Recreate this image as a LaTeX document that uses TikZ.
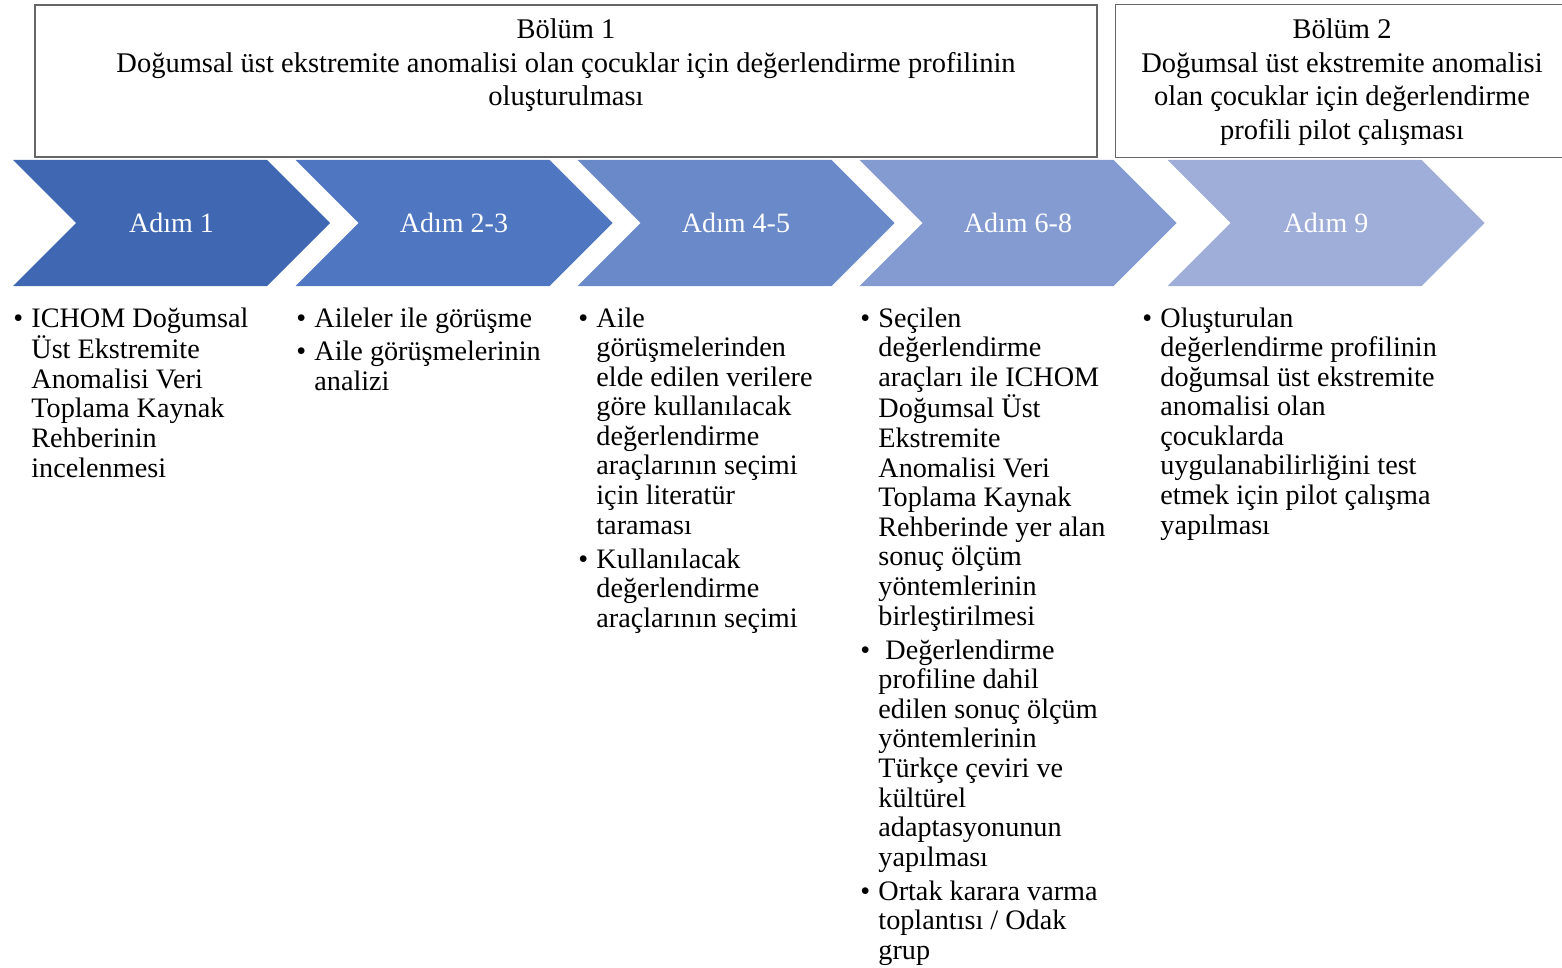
\documentclass[tikz,border=0pt]{standalone}
\usepackage{fontspec}
\setmainfont{Liberation Serif}
\usetikzlibrary{positioning}
\usetikzlibrary{shapes.symbols}
\definecolor{adimA}{HTML}{4068B2}
\definecolor{adimB}{HTML}{4F76C0}
\definecolor{adimC}{HTML}{6A89C8}
\definecolor{adimD}{HTML}{849BD2}
\definecolor{adimE}{HTML}{9FAED9}
\tikzstyle{adim} = [signal,signal from=west,signal to=east,signal pointer angle=90,inner sep=0pt,minimum height=63pt,minimum width=158.5pt,text=white,font=\fontsize{14}{16}\selectfont]
\tikzstyle{kutu} = [draw=black!60,line width=0.6pt,minimum width=531pt,minimum height=76pt,inner sep=0pt]
\tikzstyle{baslik} = [inner sep=0pt,anchor=base,font=\fontsize{14.25}{16.75}\selectfont]
\tikzstyle{liste} = [inner sep=0pt,anchor=base west,font=\fontsize{14.1}{14.8}\selectfont]
\newcommand{\mad}{\textbullet &}
\newcommand{\ara}{\\[2.2pt]}

\begin{document}
\begin{tikzpicture}[x=0.5pt,y=-0.5pt]
  \useasboundingbox (0,0) rectangle (1562,968);
  % bolumler
  \node [kutu] (k1) at (566,81) {};
  \node [baslik] (b1) at (566,39) {\begin{tabular}[t]{@{}c@{}}Bölüm 1\\Doğumsal üst ekstremite anomalisi olan çocuklar için değerlendirme profilinin\\oluşturulması\end{tabular}};
  \node [kutu,draw=none,minimum width=223pt] (k2) at (1339,81) {};
  \draw [draw=black!60,line width=0.6pt] (k2.north east) -- (k2.north west) -- (k2.south west) -- (k2.south east);
  \node [baslik] (b2) at (1342,39) {\begin{tabular}[t]{@{}c@{}}Bölüm 2\\Doğumsal üst ekstremite anomalisi\\olan çocuklar için değerlendirme\\profili pilot çalışması\end{tabular}};

  % adimlar
  \node [adim,fill=adimA] (a1) at (171.5,223) {Adım 1};
  \node [adim,fill=adimB] (a2) at (454,223) {Adım 2-3};
  \node [adim,fill=adimC] (a3) at (736,223) {Adım 4-5};
  \node [adim,fill=adimD] (a4) at (1018,223) {Adım 6-8};
  \node [adim,fill=adimE] (a5) at (1326,223) {Adım 9};

  % maddeler
  \node [liste] (l1) at (13,327) {\begin{tabular}[t]{@{}p{9pt}@{}l@{}}
    \mad ICHOM Doğumsal\\ & Üst Ekstremite\\ & Anomalisi Veri\\ & Toplama Kaynak\\ & Rehberinin\\ & incelenmesi
  \end{tabular}};
  \node [liste] (l2) at (296,327) {\begin{tabular}[t]{@{}p{9pt}@{}l@{}}
    \mad Aileler ile görüşme\ara
    \mad Aile görüşmelerinin\\ & analizi
  \end{tabular}};
  \node [liste] (l3) at (578,327) {\begin{tabular}[t]{@{}p{9pt}@{}l@{}}
    \mad Aile\\ & görüşmelerinden\\ & elde edilen verilere\\ & göre kullanılacak\\ & değerlendirme\\ & araçlarının seçimi\\ & için literatür\\ & taraması\ara
    \mad Kullanılacak\\ & değerlendirme\\ & araçlarının seçimi
  \end{tabular}};
  \node [liste] (l4) at (860,327) {\begin{tabular}[t]{@{}p{9pt}@{}l@{}}
    \mad Seçilen\\ & değerlendirme\\ & araçları ile ICHOM\\ & Doğumsal Üst\\ & Ekstremite\\ & Anomalisi Veri\\ & Toplama Kaynak\\ & Rehberinde yer alan\\ & sonuç ölçüm\\ & yöntemlerinin\\ & birleştirilmesi\ara
    \mad \hspace{3.5pt}Değerlendirme\\ & profiline dahil\\ & edilen sonuç ölçüm\\ & yöntemlerinin\\ & Türkçe çeviri ve\\ & kültürel\\ & adaptasyonunun\\ & yapılması\ara
    \mad Ortak karara varma\\ & toplantısı / Odak\\ & grup
  \end{tabular}};
  \node [liste] (l5) at (1142,327) {\begin{tabular}[t]{@{}p{9pt}@{}l@{}}
    \mad Oluşturulan\\ & değerlendirme profilinin\\ & doğumsal üst ekstremite\\ & anomalisi olan\\ & çocuklarda\\ & uygulanabilirliğini test\\ & etmek için pilot çalışma\\ & yapılması
  \end{tabular}};
\end{tikzpicture}
\end{document}
